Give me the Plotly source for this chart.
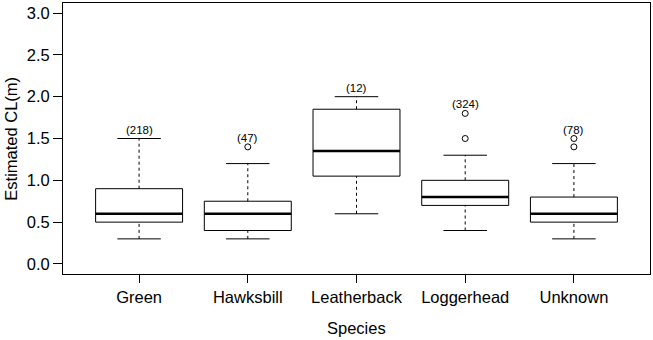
import plotly.graph_objects as go

species = ["Green", "Hawksbill", "Leatherback", "Loggerhead", "Unknown"]
counts = [218, 47, 12, 324, 78]
lower = [0.3, 0.3, 0.6, 0.4, 0.3]
q1 = [0.5, 0.4, 1.05, 0.7, 0.5]
median = [0.6, 0.6, 1.35, 0.8, 0.6]
q3 = [0.9, 0.75, 1.85, 1.0, 0.8]
upper = [1.5, 1.2, 2.0, 1.3, 1.2]
outliers = [[], [1.4], [], [1.5, 1.8], [1.4, 1.5]]

y_ticks = [0.0, 0.5, 1.0, 1.5, 2.0, 2.5, 3.0]

FONT = "Liberation Sans, Arial, Helvetica, sans-serif"
BOXW = 0.4
CAPW = 0.2

fig = go.Figure()
shapes = []
annotations = []
pos = list(range(1, len(species) + 1))

for i, p in enumerate(pos):
    shapes.append(dict(type="rect", xref="x", yref="y", x0=p - BOXW, x1=p + BOXW,
                       y0=q1[i], y1=q3[i], line=dict(color="black", width=1),
                       fillcolor="white", layer="above"))
    shapes.append(dict(type="line", xref="x", yref="y", x0=p - BOXW, x1=p + BOXW,
                       y0=median[i], y1=median[i], line=dict(color="black", width=2.6),
                       layer="above"))
    shapes.append(dict(type="line", xref="x", yref="y", x0=p, x1=p, y0=q3[i], y1=upper[i],
                       line=dict(color="black", width=1, dash="3px,3px"), layer="above"))
    shapes.append(dict(type="line", xref="x", yref="y", x0=p, x1=p, y0=lower[i], y1=q1[i],
                       line=dict(color="black", width=1, dash="3px,3px"), layer="above"))
    for v in (lower[i], upper[i]):
        shapes.append(dict(type="line", xref="x", yref="y", x0=p - CAPW, x1=p + CAPW,
                           y0=v, y1=v, line=dict(color="black", width=1), layer="above"))
    top = max([upper[i]] + outliers[i])
    annotations.append(dict(x=p, y=top, xref="x", yref="y", text=f"({counts[i]})",
                            showarrow=False, yanchor="bottom", yshift=1,
                            font=dict(family=FONT, size=11.5, color="black")))

annotations.append(dict(x=-0.09, y=0.5, xref="paper", yref="paper", text="Estimated CL(m)",
                        showarrow=False, textangle=-90, xanchor="center", yanchor="middle",
                        font=dict(family=FONT, size=16.5, color="black")))
annotations.append(dict(x=0.5, y=-0.2, xref="paper", yref="paper", text="Species",
                        showarrow=False, xanchor="center", yanchor="middle",
                        font=dict(family=FONT, size=16.5, color="black")))

ox, oy = [], []
for i, p in enumerate(pos):
    for v in outliers[i]:
        ox.append(p)
        oy.append(v)
fig.add_trace(go.Scatter(x=ox, y=oy, mode="markers",
                         marker=dict(symbol="circle-open", size=6, color="black",
                                     line=dict(width=1)),
                         showlegend=False, hoverinfo="skip"))

fig.update_layout(
    width=653, height=340,
    margin=dict(l=63, r=3, t=3, b=66, autoexpand=False),
    paper_bgcolor="white", plot_bgcolor="white",
    font=dict(family=FONT, size=16.5, color="black"),
    shapes=shapes, annotations=annotations, showlegend=False,
    xaxis=dict(range=[0.3, 5.7], tickmode="array", tickvals=pos, ticktext=species,
               ticks="outside", ticklen=8, tickcolor="black", tickwidth=1,
               showgrid=False, zeroline=False, showline=True, linecolor="black",
               linewidth=1, mirror=True, automargin=False,
               tickfont=dict(size=16.5)),
    yaxis=dict(range=[-0.12, 3.12], tickmode="array", tickvals=y_ticks,
               ticktext=[f"{v:.1f}" for v in y_ticks],
               ticks="outside", ticklen=9, tickcolor="black", tickwidth=1,
               showgrid=False, zeroline=False, showline=True, linecolor="black",
               linewidth=1, mirror=True, automargin=False,
               tickfont=dict(size=16.5)),
)

fig.write_html("out.html",
               config={"displayModeBar": False, "staticPlot": True},
               post_script="document.body.style.margin='0';"
                           "document.body.style.overflow='hidden';")
